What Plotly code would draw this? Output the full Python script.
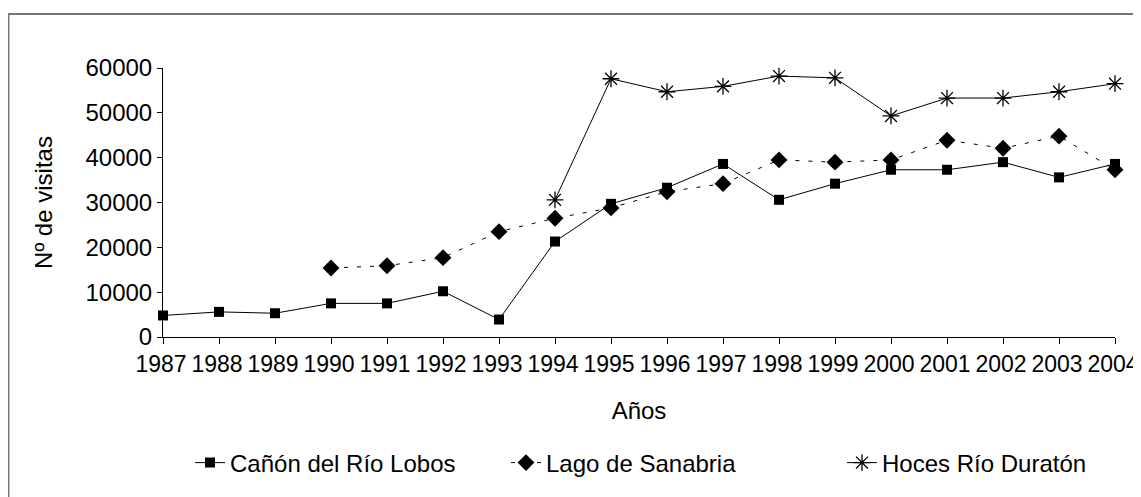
import plotly.graph_objects as go

years = list(range(1987, 2005))
year_labels = [str(y) for y in years]

# visitors per year (None = no data)
lobos = [4800, 5600, 5300, 7500, 7500, 10200, 3900, 21300, 29700, 33300,
         38600, 30600, 34200, 37300, 37300, 39000, 35600, 38600]
sanabria = [None, None, None, 15400, 15900, 17700, 23500, 26500, 28800, 32400,
            34200, 39500, 39000, 39500, 43900, 42100, 44800, 37300]
duraton = [None, None, None, None, None, None, None, 30600, 57600, 54700,
           55900, 58200, 57800, 49300, 53300, 53300, 54700, 56500]

y_ticks = [0, 10000, 20000, 30000, 40000, 50000, 60000]

FONT = "Liberation Sans, Arial, sans-serif"
# the page body adds an 8px margin, so the figure is 16px smaller than the window
W, H = 1133, 489

fig = go.Figure()
fig.add_trace(go.Scatter(
    x=years, y=lobos, name="Cañón del Río Lobos", mode="lines+markers",
    line=dict(color="black", width=1),
    marker=dict(symbol="square", size=10, color="black"),
    cliponaxis=False, legend="legend"))
fig.add_trace(go.Scatter(
    x=years, y=sanabria, name="Lago de Sanabria", mode="lines+markers",
    line=dict(color="black", width=1, dash="4px,9px"),
    marker=dict(symbol="diamond", size=13, color="black"),
    cliponaxis=False, legend="legend2"))
fig.add_trace(go.Scatter(
    x=years, y=duraton, name="Hoces Río Duratón", mode="lines+markers",
    line=dict(color="black", width=1),
    marker=dict(symbol="asterisk-open", size=14, color="black",
                line=dict(color="black", width=1.3)),
    cliponaxis=False, legend="legend3"))

# grey frame round the whole chart
fig.add_shape(type="rect", xref="paper", yref="paper",
              x0=-0.1623, x1=1.04, y0=-0.62, y1=1.2004,
              line=dict(color="#777777", width=2), fillcolor="rgba(0,0,0,0)",
              layer="below")


def leg(xpx):
    return dict(orientation="h", xref="container", yref="container",
                x=xpx / W, xanchor="left", y=1 - 455 / H, yanchor="middle",
                font=dict(family=FONT, size=24), bgcolor="rgba(0,0,0,0)",
                itemwidth=30)


fig.update_layout(
    width=W, height=H,
    margin=dict(l=155, r=26, t=60, b=160, autoexpand=False),
    paper_bgcolor="white", plot_bgcolor="white",
    font=dict(family=FONT, size=24, color="black"),
    showlegend=True,
    legend=leg(182), legend2=leg(498), legend3=leg(834),
)
fig.update_xaxes(
    range=[1987, 2004], tickvals=years, ticktext=year_labels, tickangle=0,
    automargin=False, ticklabelshift=-2,
    showline=True, linecolor="black", linewidth=1, showgrid=False, zeroline=False,
    ticks="outside", ticklen=6, tickcolor="black", ticklabeloverflow="allow",
    tickfont=dict(family=FONT, size=23),
    title=dict(text="Años", font=dict(family=FONT, size=24), standoff=26))
fig.update_yaxes(
    range=[0, 60000], tickvals=y_ticks, tickformat="d", automargin=False,
    showline=True, linecolor="black", linewidth=1, showgrid=False, zeroline=False,
    ticks="outside", ticklen=5, tickcolor="black",
    tickfont=dict(family=FONT, size=24),
    title=dict(text="Nº de visitas", font=dict(family=FONT, size=24), standoff=26))

fig.write_html("out.html")
